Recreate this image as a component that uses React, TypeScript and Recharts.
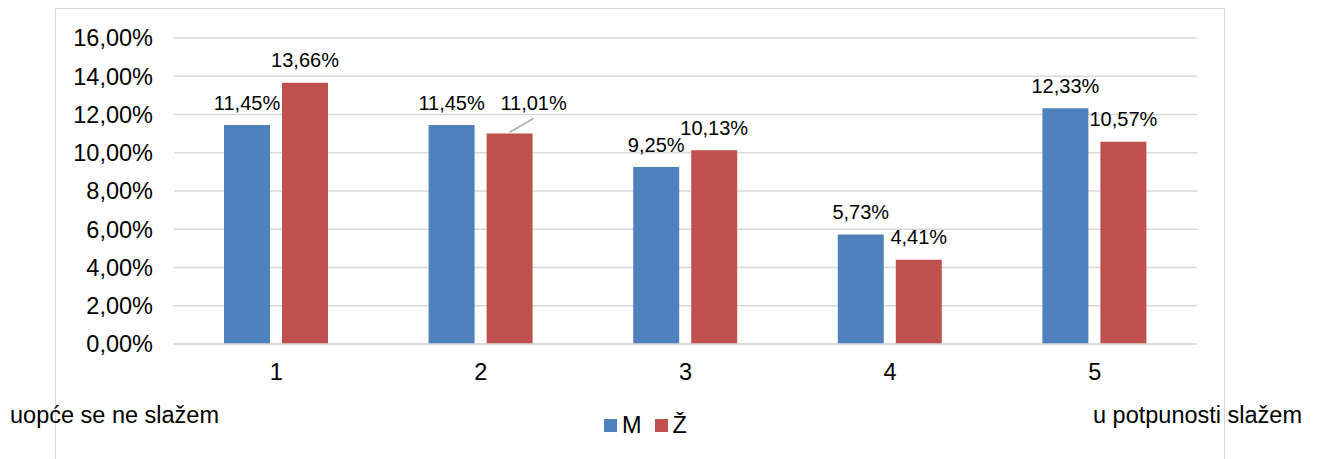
import React from 'react';
import { BarChart, Bar, XAxis, YAxis, CartesianGrid, LabelList } from 'recharts';

const categories = ['1', '2', '3', '4', '5'];
const maleValues = [11.45, 11.45, 9.25, 5.73, 12.33];
const femaleValues = [13.66, 11.01, 10.13, 4.41, 10.57];
const yTicks = [0, 2, 4, 6, 8, 10, 12, 14, 16];

const BLUE = '#4F81BD';
const RED = '#C0504D';
const FONT = '"Liberation Sans", Arial, sans-serif';

const data = categories.map((c, i) => ({ name: c, M: maleValues[i], Z: femaleValues[i] }));

const pct = (v: number) => v.toFixed(2).replace('.', ',') + '%';

// label for the red bar in group 2 sits off to the right with a leader line
const makeLabel = (series: 'M' | 'Z') => (props: any) => {
  const { x, y, width, value, index } = props;
  const cx = x + width / 2;
  const moved = series === 'Z' && index === 1;
  const lx = moved ? cx + 24 : cx;
  const ly = moved ? y - 30 : y - 22.5;
  return (
    <g>
      {moved && <line x1={cx} y1={y - 1} x2={cx + 24} y2={y - 15} stroke="#a6a6a6" strokeWidth={1.5} />}
      <text x={lx} y={ly + 7} textAnchor="middle" fontSize={20} fontFamily={FONT} fill="#000">
        {pct(value)}
      </text>
    </g>
  );
};

const textStyle: React.CSSProperties = {
  position: 'absolute',
  fontFamily: FONT,
  fontSize: 23.5,
  color: '#000',
  lineHeight: '24px',
  whiteSpace: 'nowrap',
};

export default function App() {
  return (
    <div style={{ position: 'absolute', left: 0, top: 0, width: 1320, height: 459, overflow: 'hidden', background: '#fff' }}>
      <div
        style={{
          position: 'absolute',
          left: 55,
          top: 8,
          width: 1170,
          height: 470,
          border: '1.5px solid #d9d9d9',
          boxSizing: 'border-box',
        }}
      />
      <div style={{ position: 'absolute', left: 0, top: 0 }}>
        <BarChart
          width={1320}
          height={459}
          data={data}
          margin={{ top: 38, right: 123, bottom: 85, left: 0 }}
          barSize={46}
          barGap={12}
        >
          <CartesianGrid horizontal vertical={false} stroke="#d9d9d9" strokeWidth={1.5} />
          <XAxis
            dataKey="name"
            height={30}
            axisLine={{ stroke: '#d9d9d9', strokeWidth: 1.5 }}
            tickLine={false}
            tickSize={0}
            tickMargin={19}
            tick={{ fontSize: 23.5, fontFamily: FONT, fill: '#000' }}
          />
          <YAxis
            width={174}
            domain={[0, 16]}
            ticks={yTicks}
            axisLine={false}
            tickLine={false}
            tickSize={0}
            tickMargin={21}
            tickFormatter={(v: number) => pct(v)}
            tick={{ fontSize: 23.5, fontFamily: FONT, fill: '#000' }}
          />
          <Bar dataKey="M" fill={BLUE} isAnimationActive={false}>
            <LabelList dataKey="M" content={makeLabel('M')} />
          </Bar>
          <Bar dataKey="Z" fill={RED} isAnimationActive={false}>
            <LabelList dataKey="Z" content={makeLabel('Z')} />
          </Bar>
        </BarChart>
      </div>
      <div style={{ ...textStyle, left: 10, top: 403 }}>uopće se ne slažem</div>
      <div style={{ ...textStyle, left: 1093, top: 403 }}>u potpunosti slažem</div>
      <div style={{ position: 'absolute', left: 604, top: 412, display: 'flex', alignItems: 'center', fontFamily: FONT, fontSize: 23.5 }}>
        <span style={{ width: 13, height: 13, background: BLUE, display: 'inline-block', marginRight: 5 }} />
        <span style={{ marginRight: 13 }}>M</span>
        <span style={{ width: 13, height: 13, background: RED, display: 'inline-block', marginRight: 5 }} />
        <span>Ž</span>
      </div>
    </div>
  );
}
